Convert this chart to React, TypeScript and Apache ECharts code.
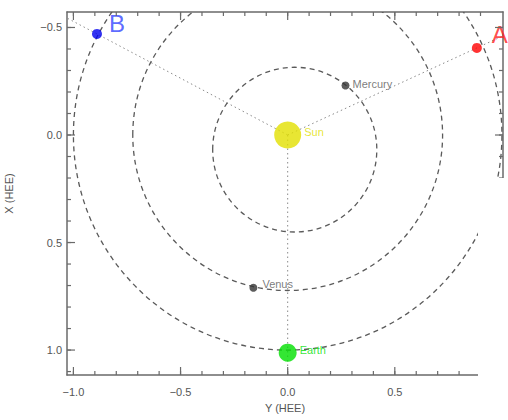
import React, { useEffect, useRef } from "react";
import * as echarts from "echarts";

// Bodies: horizontal value = Y (HEE), vertical value = X (HEE)
const bodyNames = ["Sun", "Mercury", "Venus", "Earth", "A", "B"];
const bodyY = [0, 0.27, -0.16, 0, 0.883, -0.89];
const bodyX = [0, -0.23, 0.71, 1.012, -0.405, -0.47];

// Orbits (circles): centre Y, centre X, radius
const orbitNames = ["Mercury", "Venus", "Earth"];
const orbitCenterY = [0.033, 0, 0];
const orbitCenterX = [0.068, 0, 0];
const orbitRadius = [0.383, 0.723, 1.0];

// Rays from the Sun through these bodies
const rayTargets = ["A", "B", "Earth"];

// Axis ranges and ticks
const yHeeMin = -1.03;
const yHeeMax = 1.005;
const xHeeMin = -0.572;
const xHeeMax = 1.116;
const yHeeMajor = [-1.0, -0.5, 0.0, 0.5];
const yHeeMinor = [-1.0, -0.9, -0.8, -0.7, -0.6, -0.5, -0.4, -0.3, -0.2, -0.1, 0.0, 0.1, 0.2, 0.3, 0.4, 0.5, 0.6, 0.7, 0.8, 0.9];
const xHeeMajor = [-0.5, 0.0, 0.5, 1.0];
const xHeeMinor = [-0.5, -0.4, -0.3, -0.2, -0.1, 0.0, 0.1, 0.2, 0.3, 0.4, 0.5, 0.6, 0.7, 0.8, 0.9, 1.0, 1.1];

const FONT = "Liberation Sans";
const AXIS_COLOR = "#6a6a6a";
const TICK_COLOR = "#6a6a6a";
const TEXT_COLOR = "#555";

const fmt = (v: number) => {
  const s = Math.abs(v) < 1e-9 ? "0.0" : v.toFixed(1);
  return s.replace("-", "\u2212");
};

const bodyStyle: Record<string, any> = {
  Sun: { size: 27, color: "#e2e000", label: "#e2e000", fontSize: 11, offset: [0, -3], distance: 3 },
  Mercury: { size: 8, color: "#333", label: "#5a5a5a", fontSize: 11, offset: [0, -2], distance: 3 },
  Venus: { size: 8, color: "#333", label: "#5a5a5a", fontSize: 11, offset: [0, -4], distance: 5 },
  Earth: { size: 18, color: "#00e000", label: "#00e000", fontSize: 11, offset: [0, -3], distance: 3 },
  A: { size: 10, color: "#ff0000", label: "#ff2020", fontSize: 24, offset: [0, -13], distance: 10 },
  B: { size: 10, color: "#0000ee", label: "#3344ff", fontSize: 24, offset: [0, -10], distance: 7 },
};

function makeXAxis(position: "bottom" | "top") {
  const bottom = position === "bottom";
  return {
    type: "value",
    position,
    min: yHeeMin,
    max: yHeeMax,
    axisLine: { show: true, onZero: false, lineStyle: { color: AXIS_COLOR, width: 1.5 } },
    axisTick: { show: false },
    axisLabel: {
      show: bottom,
      customValues: yHeeMajor,
      formatter: fmt,
      color: TEXT_COLOR,
      fontSize: 11,
      fontFamily: FONT,
      margin: 11,
    },
    splitLine: { show: false },
    name: bottom ? "Y (HEE)" : "",
    nameLocation: "middle",
    nameGap: 27,
    nameTextStyle: { color: TEXT_COLOR, fontSize: 11, fontFamily: FONT },
  };
}

function makeYAxis(position: "left" | "right") {
  const left = position === "left";
  return {
    type: "value",
    position,
    inverse: true,
    min: xHeeMin,
    max: xHeeMax,
    axisLine: { show: true, onZero: false, lineStyle: { color: AXIS_COLOR, width: 1.5 } },
    axisTick: { show: false },
    axisLabel: {
      show: left,
      customValues: xHeeMajor,
      formatter: fmt,
      color: TEXT_COLOR,
      fontSize: 11,
      fontFamily: FONT,
      margin: 5,
    },
    splitLine: { show: false },
    name: left ? "X (HEE)" : "",
    nameLocation: "middle",
    nameGap: 53,
    nameRotate: 90,
    nameTextStyle: { color: TEXT_COLOR, fontSize: 11, fontFamily: FONT },
  };
}

export default function App() {
  const ref = useRef<HTMLDivElement>(null);

  useEffect(() => {
    if (!ref.current) return;
    const chart = echarts.init(ref.current, undefined, { renderer: "svg" });

    const orbitData = orbitNames.map((n, i) => [orbitCenterY[i], orbitCenterX[i], orbitRadius[i]]);

    // tick rows: [Y value, X value, direction code, length]
    // direction: 0 = up (bottom axis), 1 = down (top axis), 2 = right (left axis), 3 = left (right axis)
    const tickRows: number[][] = [];
    yHeeMinor.forEach((v) => { tickRows.push([v, xHeeMax, 0, 4]); tickRows.push([v, xHeeMin, 1, 4]); });
    yHeeMajor.forEach((v) => { tickRows.push([v, xHeeMax, 0, 8]); tickRows.push([v, xHeeMin, 1, 8]); });
    xHeeMinor.forEach((v) => { tickRows.push([yHeeMin, v, 2, 4]); tickRows.push([yHeeMax, v, 3, 4]); });
    xHeeMajor.forEach((v) => { tickRows.push([yHeeMin, v, 2, 8]); tickRows.push([yHeeMax, v, 3, 8]); });

    const sunIdx = bodyNames.indexOf("Sun");
    const sunPt = [bodyY[sunIdx], bodyX[sunIdx]];
    const raySeries = rayTargets.map((name) => {
      const i = bodyNames.indexOf(name);
      const far = 3;
      return {
        type: "line",
        name: "ray-" + name,
        xAxisIndex: 0,
        yAxisIndex: 0,
        symbol: "none",
        clip: true,
        silent: true,
        z: 1,
        lineStyle: { color: "#8a8a8a", width: 1, type: [1.5, 3] },
        data: [sunPt, [sunPt[0] + (bodyY[i] - sunPt[0]) * far, sunPt[1] + (bodyX[i] - sunPt[1]) * far]],
      };
    });

    const bodySeries = bodyNames.map((name, i) => {
      const st = bodyStyle[name];
      return {
        type: "scatter",
        name,
        xAxisIndex: 0,
        yAxisIndex: 0,
        symbol: "circle",
        symbolSize: st.size,
        z: 5,
        itemStyle: { color: st.color },
        label: {
          show: true,
          position: "right",
          distance: st.distance,
          offset: st.offset,
          formatter: name,
          color: st.label,
          fontSize: st.fontSize,
          fontFamily: FONT,
        },
        data: [[bodyY[i], bodyX[i]]],
      };
    });

    const option: any = {
      animation: false,
      backgroundColor: "#ffffff",
      grid: { left: 67, top: 12, right: 5, bottom: 45, containLabel: false, outerBoundsMode: "none" },
      xAxis: [makeXAxis("bottom"), makeXAxis("top")],
      yAxis: [makeYAxis("left"), makeYAxis("right")],
      series: [
        {
          type: "custom",
          name: "orbits",
          xAxisIndex: 0,
          yAxisIndex: 0,
          clip: true,
          silent: true,
          z: 2,
          data: orbitData,
          renderItem: (params: any, api: any) => {
            const c = api.coord([api.value(0), api.value(1)]);
            const r = api.value(2);
            const sz = api.size([r, r]);
            return {
              type: "ellipse",
              shape: { cx: c[0], cy: c[1], rx: sz[0], ry: sz[1] },
              style: { fill: "none", stroke: "#5a5a5a", lineWidth: 1.3, lineDash: [5, 4] },
            };
          },
        },
        {
          type: "custom",
          name: "ticks",
          xAxisIndex: 0,
          yAxisIndex: 0,
          clip: false,
          silent: true,
          z: 10,
          data: tickRows,
          renderItem: (params: any, api: any) => {
            const p = api.coord([api.value(0), api.value(1)]);
            const dir = api.value(2);
            const len = api.value(3);
            const dx = dir === 2 ? len : dir === 3 ? -len : 0;
            const dy = dir === 0 ? -len : dir === 1 ? len : 0;
            return {
              type: "rect",
              shape: {
                x: Math.min(p[0], p[0] + dx) - (dx === 0 ? 0.6 : 0),
                y: Math.min(p[1], p[1] + dy) - (dy === 0 ? 0.6 : 0),
                width: dx === 0 ? 1.2 : Math.abs(dx),
                height: dy === 0 ? 1.2 : Math.abs(dy),
              },
              style: { fill: TICK_COLOR },
            };
          },
        },
        ...raySeries,
        ...bodySeries,
      ],
      graphic: [
        {
          type: "rect",
          z: 100,
          shape: { x: 478, y: 178, width: 40, height: 260 },
          style: { fill: "#ffffff" },
        },
      ],
    };

    chart.setOption(option);
    return () => chart.dispose();
  }, []);

  return (
    <div
      ref={ref}
      style={{ position: "fixed", left: 0, top: 0, width: 508, height: 420, background: "#fff" }}
    />
  );
}
